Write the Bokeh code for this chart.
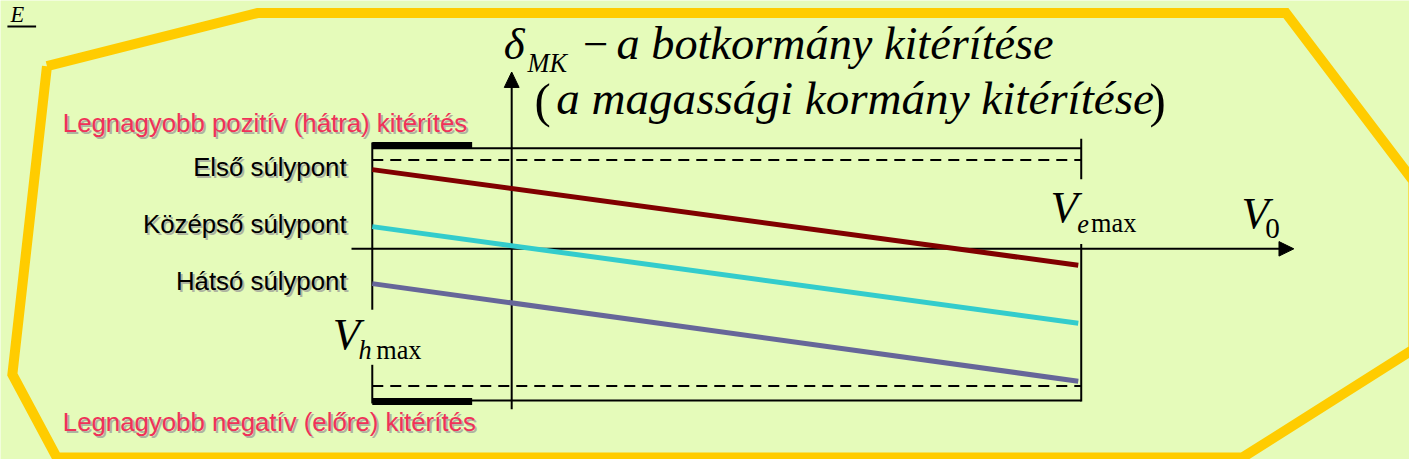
from bokeh.plotting import figure
from bokeh.models import Range1d
from bokeh.core.properties import value
from bokeh.embed import file_html
from bokeh.resources import INLINE

# ---------------- data (chart units; origin = crossing of the two axes) ----------------
series_names = ["Első súlypont", "Középső súlypont", "Hátsó súlypont"]
series_colors = ["#800000", "#33CCCC", "#666699"]
v_hmax = -141          # left limit speed (V_hmax)
v_emax = 576           # right limit speed (V_emax)
line_x_end = 573
defl_start = [82, 23, -36]      # elevator deflection at V_hmax
defl_end = [-17, -77, -137]     # elevator deflection at V_emax
max_pos_defl = 92               # largest positive (back) deflection, dashed
max_pos_stop = 104              # stop line
max_neg_defl = -142             # largest negative (forward) deflection, dashed
max_neg_stop = -157
top_label = "Legnagyobb pozitív (hátra) kitérítés"
bottom_label = "Legnagyobb negatív (előre) kitérítés"

BG = "#E5FBBA"
YELLOW = "#FFCC00"
RED = "#F03158"
SHADOW = "#AEB3A0"
SERIF = value("Liberation Serif")
SANS = value("Liberation Sans")
FS = 0.975   # font scale (diagram drawn at 1409x459 instead of 1425x475)

# reference-pixel -> chart unit helpers (layout only)
OX, OY = 517, 257
def X(px):
    return px - OX
def Y(py):
    return OY - py

W, H = 1409, 459
YS = H / 475.0
p = figure(width=W, height=H, x_range=Range1d(X(0), X(1425)), y_range=Range1d(Y(475), Y(0)),
           output_backend="svg", toolbar_location=None, x_axis_location=None, y_axis_location=None,
           min_border=0, min_border_left=0, min_border_right=0, min_border_top=0, min_border_bottom=0,
           background_fill_color=BG, border_fill_color=BG, outline_line_color=None)
p.xgrid.visible = False
p.ygrid.visible = False

# ---------------- yellow octagon frame ----------------
frame_px = [(47, 68), (260, 13), (1300, 13), (1429, 187), (1429, 361), (1256, 473), (57, 473), (12, 387), (47, 68)]
p.line([X(a) for a, b in frame_px], [Y(b) for a, b in frame_px], line_color=YELLOW, line_width=10,
       line_join="miter")

# ---------------- limits ----------------
p.segment(x0=[v_hmax, v_hmax], y0=[max_pos_stop, max_neg_stop], x1=[v_emax, v_emax], y1=[max_pos_stop, max_neg_stop],
          line_color="black", line_width=2)
p.segment(x0=[v_hmax, v_hmax], y0=[max_pos_defl, max_neg_defl], x1=[v_emax, v_emax], y1=[max_pos_defl, max_neg_defl],
          line_color="black", line_width=2, line_dash="11 7")
p.segment(x0=[v_hmax, v_hmax], y0=[max_pos_stop + 3, max_neg_stop - 1], x1=[v_hmax + 101, v_hmax + 101],
          y1=[max_pos_stop + 3, max_neg_stop - 1], line_color="black", line_width=7)
p.segment(x0=[v_hmax, v_hmax, v_emax, v_emax],
          y0=[Y(147), Y(377), Y(143), Y(252)],
          x1=[v_hmax, v_hmax, v_emax, v_emax],
          y1=[Y(320), Y(417), Y(185), Y(415)], line_color="black", line_width=2)

# ---------------- axes with arrows ----------------
p.segment(x0=[0, X(355)], y0=[Y(423), 0], x1=[0, X(1294)], y1=[Y(89), 0], line_color="black", line_width=2)
p.patches(xs=[[0, -7.5, 7.5], [X(1308), X(1293), X(1293)]],
          ys=[[Y(74), Y(90), Y(90)], [0, 7.5, -7.5]], fill_color="black", line_color="black", line_width=1)

# ---------------- series lines ----------------
p.multi_line(xs=[[v_hmax, line_x_end] for _ in series_names],
             ys=[[s, e] for s, e in zip(defl_start, defl_end)],
             line_color=series_colors, line_width=5)


def txt(x, y, s, size, color="black", font=SERIF, style="normal", align="left", shadow=False):
    px = size * FS
    fs = f"{px:.1f}px"
    y = y + 0.36 * px / YS   # baseline correction
    if shadow:
        p.text(x=[x + 2], y=[y - 2], text=[s], text_font=font, text_font_size=fs,
               text_font_style=style, text_color=SHADOW, text_align=align, text_baseline="alphabetic")
    p.text(x=[x], y=[y], text=[s], text_font=font, text_font_size=fs,
           text_font_style=style, text_color=color, text_align=align, text_baseline="alphabetic")


# series labels, aligned with the starting values
for name, s in zip(series_names, defl_start):
    txt(X(350), s - 7, name, 26.5, font=SANS, align="right", shadow=True)

txt(X(63), Y(136), top_label, 26.5, color=RED, font=SANS, shadow=True)
txt(X(63), Y(446), bottom_label, 26.5, color=RED, font=SANS, shadow=True)

# title (y axis label)
txt(X(509), Y(62), "δ", 46, style="italic")
txt(X(533), Y(75), "MK", 27, style="italic")
txt(X(589), Y(62), "\u2212", 46)
txt(X(623), Y(62), "a botkormány kitérítése", 47.5, style="italic")
txt(X(540), Y(122), "(", 50)
txt(X(1162), Y(122), ")", 50)
txt(X(562), Y(118), "a magassági kormány kitérítése", 48.3, style="italic")

# V labels
txt(X(1062), Y(230), "V", 46, style="italic")
txt(X(1089), Y(241), "e", 27, style="italic")
txt(X(1103), Y(241), "max", 27)
txt(X(1255), Y(237), "V", 46, style="italic")
txt(X(1279), Y(247), "0", 30)
txt(X(336), Y(362), "V", 46, style="italic")
txt(X(362), Y(372), "h", 27, style="italic")
txt(X(380), Y(372), "max", 27)

# corner "E"
txt(X(10), Y(23), "E", 23, style="italic")
p.segment(x0=[X(7)], y0=[Y(27)], x1=[X(36)], y1=[Y(27)], line_color="black", line_width=2)

open("out.html", "w").write(file_html(p, INLINE))
